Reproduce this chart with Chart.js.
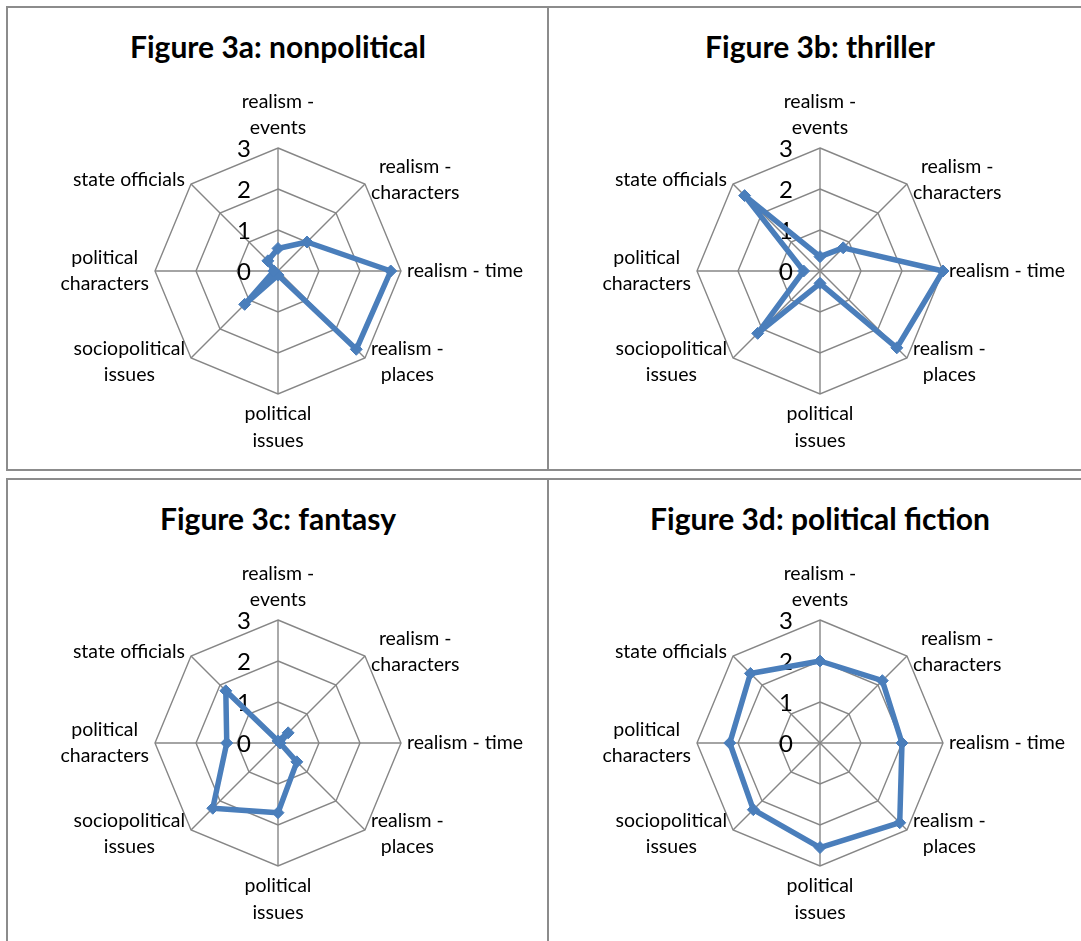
<!DOCTYPE html>
<html>
<head>
<meta charset="utf-8">
<title>Figure 3</title>
<script src="https://cdn.jsdelivr.net/npm/chart.js@4.4.1/dist/chart.umd.min.js"></script>
<style>
  html, body { margin: 0; padding: 0; background: #fff; overflow: hidden; }
  body { width: 1081px; height: 941px; position: relative; font-family: Lato, sans-serif; }
  .panel { position: absolute; box-sizing: border-box; border: 2px solid #8c8c8c; background: #fff; }
  .panel h2 { position: absolute; margin: 0; font: bold 30px Lato, sans-serif; line-height: 36px;
              color: #000; white-space: nowrap; transform: translateX(-50%); }
  .panel canvas { position: absolute; left: 0; top: 0; }
</style>
</head>
<body>

<script>
// --- data ---
const categories = [
  ['realism -', 'events'],
  ['realism -', 'characters'],
  ['realism - time'],
  ['realism -', 'places'],
  ['political', 'issues'],
  ['sociopolitical', 'issues'],
  ['political', 'characters'],
  ['state officials']
];
const tickValues = [0, 1, 2, 3];

const chartTitles = [
  'Figure 3a: nonpolitical',
  'Figure 3b: thriller',
  'Figure 3c: fantasy',
  'Figure 3d: political fiction'
];

const nonpoliticalValues     = [0.55, 1.0, 2.75, 2.7, 0.1, 1.15, 0.1, 0.35];
const thrillerValues         = [0.35, 0.8, 3.0, 2.65, 0.3, 2.15, 0.4, 2.6];
const fantasyValues          = [0.05, 0.35, 0.05, 0.65, 1.7, 2.25, 1.25, 1.8];
const politicalFictionValues = [2.0, 2.15, 2.0, 2.75, 2.55, 2.3, 2.2, 2.4];

const seriesList = [nonpoliticalValues, thrillerValues, fantasyValues, politicalFictionValues];

// --- layout (page coordinates) ---
const panels = [
  { left: 6,   top: 6,   width: 543, height: 465, cx: 278, cy: 271 },
  { left: 547, top: 6,   width: 560, height: 465, cx: 820, cy: 271 },
  { left: 6,   top: 478, width: 543, height: 480, cx: 278, cy: 743 },
  { left: 547, top: 478, width: 560, height: 480, cx: 820, cy: 743 }
];
const RADIUS = 123;
const BLUE = '#4a7ebb';
const GRID = '#868686';

// tick numbers 0..3 drawn to the left of the vertical axis, under the series
const tickLabelPlugin = {
  id: 'tickLabels',
  beforeDatasetsDraw(chart) {
    const r = chart.scales.r;
    const ctx = chart.ctx;
    ctx.save();
    ctx.font = '24px Lato, sans-serif';
    ctx.fillStyle = '#000';
    ctx.textAlign = 'center';
    ctx.textBaseline = 'alphabetic';
    tickValues.forEach(v => {
      const y = r.yCenter - r.getDistanceFromCenterForValue(v);
      ctx.fillText(String(v), r.xCenter - 34, y + 8.5);
    });
    ctx.restore();
  }
};

// category labels placed like Excel does: multi-line blocks centred on themselves
const pointLabelPlugin = {
  id: 'pointLabelsExcel',
  afterDraw(chart) {
    const r = chart.scales.r;
    const ctx = chart.ctx;
    const n = chart.data.labels.length;
    const LH = 26.5;
    ctx.save();
    ctx.font = '19.5px Lato, sans-serif';
    ctx.fillStyle = '#000';
    ctx.textAlign = 'center';
    ctx.textBaseline = 'alphabetic';
    chart.data.labels.forEach((lines, i) => {
      const p = r.getPointPosition(i, r.drawingArea);
      const angle = i * 360 / n;
      const bw = Math.max(...lines.map(l => ctx.measureText(l).width));
      let midX, firstBase;
      if (angle === 0) {
        midX = p.x;
        firstBase = p.y - 14 - LH * (lines.length - 1);
      } else if (angle === 180) {
        midX = p.x;
        firstBase = p.y + 26;
      } else {
        midX = angle < 180 ? p.x + 6 + bw / 2 : p.x - 6 - bw / 2;
        let shift = 6;
        if (angle % 90 !== 0) shift += (angle < 90 || angle > 270) ? -4 : 4;
        firstBase = p.y + shift - LH * (lines.length - 1) / 2;
      }
      lines.forEach((l, k) => ctx.fillText(l, midX, firstBase + LH * k));
    });
    ctx.restore();
  }
};

panels.forEach((pn, idx) => {
  const box = document.createElement('div');
  box.className = 'panel';
  box.style.left = pn.left + 'px';
  box.style.top = pn.top + 'px';
  box.style.width = pn.width + 'px';
  box.style.height = pn.height + 'px';
  document.body.appendChild(box);

  const innerW = pn.width - 4, innerH = pn.height - 4;
  const cxi = pn.cx - pn.left - 2, cyi = pn.cy - pn.top - 2;

  const h = document.createElement('h2');
  h.textContent = chartTitles[idx];
  h.style.left = cxi + 'px';
  h.style.top = '20px';
  box.appendChild(h);

  const canvas = document.createElement('canvas');
  canvas.width = innerW;
  canvas.height = innerH;
  box.appendChild(canvas);

  new Chart(canvas.getContext('2d'), {
    type: 'radar',
    data: {
      labels: categories,
      datasets: [{
        data: seriesList[idx],
        borderColor: BLUE,
        backgroundColor: BLUE,
        borderWidth: 5.5,
        borderJoinStyle: 'round',
        pointStyle: 'rectRot',
        pointRadius: 6,
        pointBackgroundColor: BLUE,
        pointBorderColor: BLUE,
        pointBorderWidth: 1,
        fill: false,
        tension: 0,
        clip: false
      }]
    },
    options: {
      responsive: false,
      animation: false,
      events: [],
      layout: {
        padding: {
          left: cxi - RADIUS,
          top: cyi - RADIUS,
          right: innerW - cxi - RADIUS,
          bottom: innerH - cyi - RADIUS
        }
      },
      plugins: { legend: { display: false }, tooltip: { enabled: false } },
      scales: {
        r: {
          min: 0,
          max: 3,
          ticks: { display: false, stepSize: 1 },
          pointLabels: { display: false },
          grid: { color: GRID, lineWidth: 1.4 },
          angleLines: { color: GRID, lineWidth: 1.4 }
        }
      }
    },
    plugins: [tickLabelPlugin, pointLabelPlugin]
  });
});
</script>
</body>
</html>
